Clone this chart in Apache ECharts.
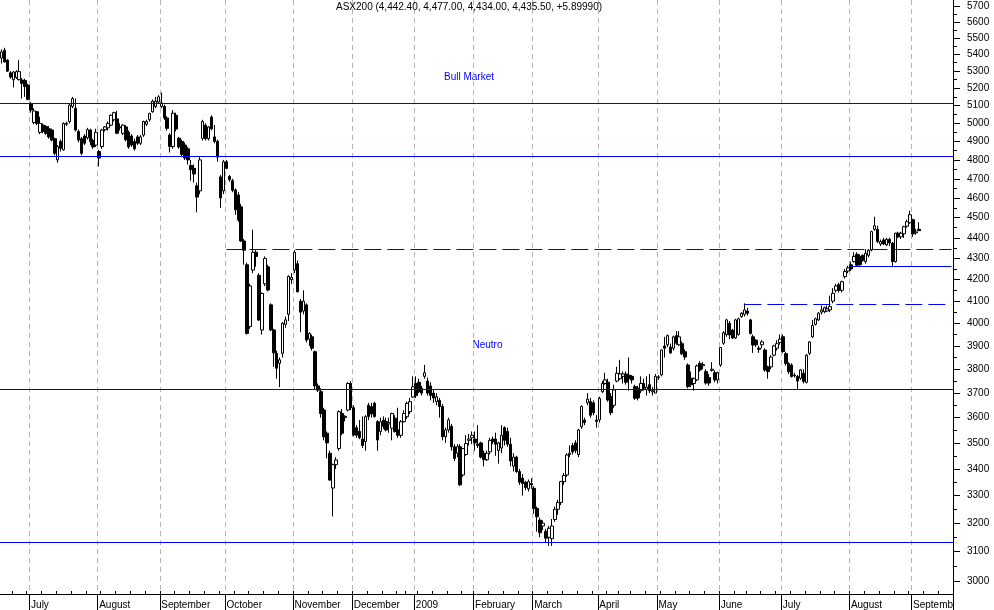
<!DOCTYPE html>
<html>
<head>
<meta charset="utf-8">
<script src="https://cdn.jsdelivr.net/npm/echarts@6/dist/echarts.min.js"></script>
<style>
html,body{margin:0;padding:0;background:#fff;}
#chart{width:994px;height:610px;}
</style>
</head>
<body>
<div id="chart"></div>
<script>
// ---------- calendar (category axis) ----------
const firstTradingDay = '2008-06-17';
const totalSlots = 322;               // trading-day slots on the axis (data + empty space at right)
const holidays = ['2008-12-25','2008-12-26','2009-01-01','2009-01-26','2009-04-10','2009-04-13','2009-06-08'];
const monthNames = ['January','February','March','April','May','June','July','August','September','October','November','December'];

// ---------- values: [open, high, low, close] ----------
const ohlcJun2008 = [
[5378,5430,5345,5415],[5425,5440,5350,5355],[5366,5370,5295,5300],[5290,5300,5255,5265],[5250,5300,5205,5295],
[5262,5305,5255,5297],[5250,5365,5245,5297],[5248,5260,5140,5228],[5245,5255,5150,5210],[5218,5225,5130,5136]];
const ohlcJul2008 = [
[5112,5120,5060,5075],[5005,5085,4995,5070],[5065,5070,4990,5000],[4950,5037,4940,5000],[4990,5000,4945,4955],
[4982,4990,4935,4945],[4970,4985,4915,4925],[4963,4970,4900,4908],[4915,4920,4825,4836],[4800,4880,4785,4872],
[4900,4910,4845,4862],[4855,5005,4850,5000],[4995,5010,4985,5000],[5010,5110,5000,5103],[5095,5150,5085,5140],
[5085,5140,4955,4963],[4955,4965,4895,4908],[4915,4925,4825,4836],[4930,4940,4880,4890],[4920,4975,4910,4965],
[4963,4970,4880,4900],[4905,4915,4860,4870],[4880,4970,4870,4950]];
const ohlcAug2008 = [
[4845,4855,4765,4810],[4872,4970,4860,4963],[4965,4985,4955,4980],[4975,5010,4960,5000],[4990,5050,4985,5045],
[5020,5065,5010,5060],[5025,5070,4940,4945],[4980,5000,4960,4976],[4945,4995,4935,4990],[4980,4990,4900,4910],
[4950,4960,4860,4870],[4930,4940,4870,4880],[4900,4915,4850,4860],[4925,4935,4880,4890],[4890,4935,4880,4925],
[4935,5015,4925,5010],[4995,5020,4985,5010],[5020,5060,5010,5055],[5065,5135,5060,5125],[5095,5150,5085,5125],
[5120,5160,5110,5150]];
const ohlcSep2008 = [
[5095,5175,5085,5115],[5095,5105,5020,5030],[5030,5040,4960,4972],[4935,4945,4840,4872],[4872,5075,4860,5057],
[5045,5060,4955,4968],[4918,4925,4860,4870],[4900,4910,4820,4830],[4880,4895,4800,4810],[4860,4870,4775,4800],
[4770,4800,4690,4748],[4755,4775,4680,4725],[4663,4680,4527,4605],[4637,4815,4620,4800],[4917,5020,4905,5010],
[4990,5000,4905,4915],[4915,4985,4905,4980],[5035,5045,4960,4970],[4925,4990,4890,4900],[4900,4910,4790,4815],
[4710,4720,4550,4600],[4637,4800,4620,4790]];
const ohlcOct2008 = [
[4790,4800,4750,4755],[4712,4720,4685,4695],[4690,4700,4630,4640],[4642,4650,4515,4540],[4616,4630,4480,4489],
[4555,4570,4380,4385],[4385,4395,4270,4340],[4270,4280,3950,3955],[3985,4180,3975,4170],[4245,4440,4230,4330],
[4330,4340,4260,4310],[4220,4230,4010,4015],[3970,4140,3950,4135],[4180,4310,4170,4300],[4260,4270,4145,4151],
[4083,4090,3965,3970],[3970,3975,3810,3870],[3868,3880,3760,3804],[3825,3850,3725,3840],[3868,4005,3850,4000],
[3995,4030,3980,4015],[4040,4220,4010,4215],[4200,4230,4180,4210]];
const ohlcNov2008 = [
[4245,4340,4230,4330],[4275,4290,4140,4143],[4100,4110,3960,4050],[4055,4150,4040,4100],[4083,4090,3915,3926],
[3930,3960,3900,3955],[3940,3950,3880,3890],[3875,3880,3715,3730],[3730,3740,3705,3712],[3706,3720,3600,3617],
[3631,3640,3510,3524],[3538,3545,3440,3500],[3460,3470,3355,3358],[3328,3420,3224,3416],[3416,3445,3400,3434],
[3478,3630,3470,3624],[3617,3635,3530,3538],[3600,3610,3585,3605],[3631,3745,3625,3740],[3740,3750,3630,3640]];
const ohlcDec2008 = [
[3640,3650,3525,3531],[3560,3570,3520,3530],[3545,3590,3515,3520],[3515,3605,3480,3490],[3505,3610,3470,3604],
[3650,3660,3590,3605],[3645,3660,3600,3615],[3658,3665,3600,3605],[3584,3590,3470,3511],[3545,3600,3530,3584],
[3590,3605,3555,3565],[3584,3600,3545,3551],[3575,3600,3540,3580],[3558,3620,3510,3617],[3598,3610,3540,3545],
[3551,3640,3520,3530],[3530,3590,3520,3584],[3584,3630,3580,3617],[3604,3665,3595,3658],[3624,3680,3615,3665],
[3684,3770,3680,3726]];
const ohlcJan2009 = [
[3740,3770,3680,3690],[3745,3760,3700,3706],[3720,3730,3690,3700],[3770,3818,3760,3785],[3750,3765,3690,3700],
[3730,3745,3670,3690],[3700,3715,3660,3680],[3665,3700,3650,3685],[3670,3680,3600,3645],[3645,3655,3510,3524],
[3524,3560,3500,3551],[3551,3600,3540,3591],[3565,3575,3470,3485],[3485,3495,3430,3440],[3460,3495,3445,3485],
[3485,3495,3335,3340],[3377,3480,3370,3478],[3455,3530,3450,3498],[3510,3535,3490,3515],[3520,3545,3495,3530]];
const ohlcFeb2009 = [
[3515,3545,3470,3500],[3495,3570,3480,3490],[3500,3505,3440,3445],[3460,3470,3410,3435],[3435,3470,3430,3460],
[3465,3520,3455,3510],[3515,3525,3495,3505],[3515,3540,3450,3495],[3470,3505,3420,3500],[3480,3570,3460,3530],
[3560,3565,3490,3510],[3545,3560,3485,3495],[3495,3520,3410,3430],[3410,3460,3390,3445],[3445,3450,3385,3390],
[3390,3400,3340,3350],[3365,3380,3300,3345],[3350,3355,3320,3330],[3325,3360,3315,3352],[3345,3365,3325,3340]];
const ohlcMar2009 = [
[3327,3335,3234,3253],[3253,3260,3170,3223],[3211,3220,3150,3166],[3190,3210,3175,3200],[3171,3180,3130,3147],
[3150,3190,3120,3182],[3145,3215,3120,3190],[3213,3260,3205,3250],[3250,3285,3230,3275],[3275,3355,3265,3352],
[3352,3385,3340,3375],[3377,3460,3370,3453],[3455,3490,3445,3460],[3490,3500,3455,3465],[3500,3510,3460,3470],
[3455,3555,3445,3551],[3564,3650,3555,3645],[3590,3600,3570,3580],[3660,3700,3650,3675],[3665,3680,3600,3610],
[3660,3670,3610,3620],[3590,3610,3560,3585]];
const ohlcApr2009 = [
[3591,3685,3580,3678],[3706,3750,3700,3740],[3740,3785,3735,3755],[3745,3760,3665,3672],[3686,3700,3610,3620],
[3650,3735,3640,3713],[3750,3810,3745,3783],[3760,3840,3755,3780],[3770,3790,3740,3780],[3780,3790,3735,3745],
[3775,3850,3710,3760],[3770,3775,3740,3755],[3727,3735,3672,3679],[3720,3730,3670,3680],[3710,3770,3700,3740],
[3740,3760,3710,3720],[3715,3770,3690,3725],[3735,3780,3700,3710],[3705,3725,3690,3710],[3700,3780,3700,3770]];
const ohlcMay2009 = [
[3765,3775,3755,3768],[3776,3885,3770,3882],[3900,3940,3850,3890],[3905,3950,3895,3945],[3895,3910,3865,3870],
[3890,3945,3880,3940],[3945,3965,3905,3912],[3905,3965,3900,3940],[3910,3920,3860,3866],[3875,3885,3840,3852],
[3818,3825,3720,3727],[3762,3790,3725,3735],[3740,3765,3710,3760],[3755,3820,3750,3814],[3824,3834,3790,3797],
[3815,3830,3800,3820],[3790,3800,3735,3742],[3765,3780,3730,3742],[3795,3830,3790,3800],[3785,3795,3745,3755],
[3755,3790,3740,3785]];
const ohlcJun2009 = [
[3818,3895,3810,3893],[3912,3965,3905,3958],[3950,4020,3940,4015],[4000,4010,3930,3948],[3970,3975,3930,3935],
[3935,4020,3930,4015],[3950,4025,3945,4020],[4030,4050,4025,4045],[4040,4090,4030,4060],[4055,4070,4035,4045],
[4015,4020,3950,3955],[3940,3950,3870,3904],[3925,3930,3895,3905],[3890,3900,3870,3885],[3905,3925,3890,3918],
[3882,3890,3790,3797],[3810,3815,3760,3790],[3810,3860,3800,3852],[3860,3905,3855,3900],[3890,3925,3880,3910],
[3915,3950,3905,3930]];
const ohlcJul2009 = [
[3940,3950,3870,3876],[3867,3875,3815,3824],[3824,3830,3780,3790],[3818,3825,3765,3769],[3775,3785,3765,3772],
[3770,3775,3715,3750],[3762,3800,3755,3797],[3783,3800,3740,3748],[3745,3865,3740,3860],[3868,3920,3860,3918],
[3940,4015,3935,3990],[3995,4025,3990,4020],[4015,4050,4010,4045],[4050,4080,4040,4060],[4052,4075,4045,4070],
[4055,4080,4050,4065],[4060,4125,4050,4075],[4100,4160,4090,4136],[4150,4180,4140,4170],[4176,4185,4140,4150],
[4150,4195,4140,4190],[4214,4250,4205,4238],[4240,4265,4230,4255]];
const ohlcAug2009 = [
[4270,4285,4240,4250],[4285,4330,4280,4310],[4320,4330,4265,4268],[4310,4320,4265,4270],[4315,4320,4285,4290],
[4285,4345,4275,4325],[4315,4345,4305,4340],[4341,4435,4335,4431],[4442,4505,4435,4460],[4442,4460,4375,4382],
[4370,4392,4360,4382],[4390,4400,4365,4370],[4365,4400,4360,4393],[4393,4400,4360,4375],[4374,4380,4258,4285],
[4285,4425,4280,4423],[4423,4430,4400,4405],[4405,4430,4395,4423],[4420,4460,4400,4455],[4458,4490,4450,4480],
[4475,4535,4470,4515]];
const ohlcSep2009 = [
[4490,4495,4405,4420],[4425,4445,4415,4429.6],[4442.4,4477,4434,4435.5]];

// ---------- y-axis ticks ----------
const yAxisMin = 2956.8, yAxisMax = 5738;
const yMajorTicks = [3000,3100,3200,3300,3400,3500,3600,3700,3800,3900,4000,4100,4200,4300,4400,4500,4600,4700,4800,4900,5000,5100,5200,5300,5400,5500,5600,5700];
const yMinorTicks = [3050,3150,3250,3350,3450,3550,3650,3750,3850,3950,4050,4150,4250,4350,4450,4550,4650,4750,4850,4950,5050,5150,5250,5350,5450,5550,5650];

// ---------- annotation lines ----------
const fullWidthLevels = [5135, 4803, 3712, 3127];
const partialLevels = [
  {from:'2008-10-01', value:4344, dashed:true},
  {from:'2009-06-12', value:4088, dashed:true},
  {from:'2009-08-03', value:4261, dashed:false}
];

const titleText = 'ASX200 (4,442.40, 4,477.00, 4,434.00, 4,435.50, +5.89990)';
const FONT = '"Liberation Sans", Arial, sans-serif';
const LINE_BLUE = '#0000ff';

// ---------- build ----------
const ohlc = [].concat(ohlcJun2008, ohlcJul2008, ohlcAug2008, ohlcSep2008, ohlcOct2008, ohlcNov2008,
  ohlcDec2008, ohlcJan2009, ohlcFeb2009, ohlcMar2009, ohlcApr2009, ohlcMay2009, ohlcJun2009,
  ohlcJul2009, ohlcAug2009, ohlcSep2009);

const categories = [];
(function () {
  const d = new Date(firstTradingDay + 'T00:00:00Z');
  while (categories.length < totalSlots) {
    const wd = d.getUTCDay();
    const s = d.toISOString().slice(0, 10);
    if (wd !== 0 && wd !== 6 && holidays.indexOf(s) < 0) categories.push(s);
    d.setUTCDate(d.getUTCDate() + 1);
  }
})();
const dayOfWeek = s => new Date(s + 'T00:00:00Z').getUTCDay();
const isMonthStart = idx => idx > 0 && idx < categories.length && categories[idx].slice(0, 7) !== categories[idx - 1].slice(0, 7);
const isWeekStart = idx => idx > 0 && idx < categories.length && dayOfWeek(categories[idx]) < dayOfWeek(categories[idx - 1]);

const seriesData = ohlc.map(d => [Math.log(d[0]), Math.log(d[3]), Math.log(d[2]), Math.log(d[1])]);
const lastIdx = categories.length - 1;

const markLineData = fullWidthLevels.map(v => ({yAxis: Math.log(v), lineStyle: {type: 'solid'}}))
  .concat(partialLevels.map(p => [
    {coord: [categories.indexOf(p.from), Math.log(p.value)], lineStyle: {type: p.dashed ? [17, 6] : 'solid'}},
    {coord: [lastIdx, Math.log(p.value)]}
  ]));

const labelFits = {};
function monthLabel(value) {
  const y = value.slice(0, 4), m = +value.slice(5, 7);
  const text = m === 1 ? y : monthNames[m - 1];
  return labelFits[value] !== undefined ? labelFits[value] : text;
}

const chart = echarts.init(document.getElementById('chart'), null, {renderer: 'canvas'});
const option = {
  animation: false,
  backgroundColor: '#ffffff',
  title: {
    text: titleText, left: 336, top: 2, padding: 0,
    textStyle: {fontSize: 10, fontWeight: 'normal', color: '#000', fontFamily: FONT}
  },
  grid: {left: 0, right: 41, top: 0, bottom: 16, containLabel: false, outerBoundsMode: 'none'},
  xAxis: [{
    type: 'category', data: categories, position: 'bottom', boundaryGap: true,
    axisLine: {show: true, onZero: false, lineStyle: {color: '#000', width: 1}},
    axisTick: {show: true, interval: isMonthStart, length: 16, lineStyle: {color: '#000', width: 1}},
    axisLabel: {show: true, interval: isMonthStart, formatter: monthLabel, align: 'left', margin: 6,
      color: '#000', fontSize: 10, fontFamily: FONT},
    splitLine: {show: true, interval: isMonthStart, lineStyle: {color: '#b4b4b4', width: 1, type: [5, 4]}}
  }, {
    type: 'category', data: categories, position: 'bottom', boundaryGap: true,
    axisLine: {show: false, onZero: false},
    axisTick: {show: true, inside: true, interval: isWeekStart, length: 3, lineStyle: {color: '#000', width: 1}},
    axisLabel: {show: false}, splitLine: {show: false}
  }],
  yAxis: [{
    type: 'value', position: 'right', min: Math.log(yAxisMin), max: Math.log(yAxisMax), scale: true,
    axisLine: {show: true, lineStyle: {color: '#000', width: 1}},
    axisTick: {show: true, length: 7, customValues: yMajorTicks.map(Math.log), lineStyle: {color: '#000'}},
    axisLabel: {show: true, customValues: yMajorTicks.map(Math.log), formatter: v => String(Math.round(Math.exp(v))),
      color: '#000', fontSize: 10, fontFamily: FONT, margin: 14, padding: [6, 0, 0, 0]},
    splitLine: {show: false}
  }, {
    type: 'value', position: 'right', min: Math.log(yAxisMin), max: Math.log(yAxisMax), scale: true,
    axisLine: {show: false},
    axisTick: {show: true, length: 4, customValues: yMinorTicks.map(Math.log), lineStyle: {color: '#000'}},
    axisLabel: {show: false}, splitLine: {show: false}
  }],
  series: [{
    type: 'candlestick', xAxisIndex: 0, yAxisIndex: 0,
    data: seriesData, barWidth: 3,
    itemStyle: {color: '#ffffff', color0: '#000000', borderColor: '#000000', borderColor0: '#000000',
      borderColorDoji: '#000000', borderWidth: 1},
    markLine: {
      silent: true, symbol: ['none', 'none'], animation: false,
      label: {show: false},
      lineStyle: {color: LINE_BLUE, width: 1},
      emphasis: {disabled: true},
      data: markLineData
    }
  }],
  graphic: [
    {type: 'text', left: 444, top: 72.5, style: {text: 'Bull Market', fill: LINE_BLUE, font: '10px ' + FONT}},
    {type: 'text', left: 472.5, top: 340, style: {text: 'Neutro', fill: LINE_BLUE, font: '10px ' + FONT}}
  ]
};
chart.setOption(option);

// month labels are clipped at the right edge of the plot, as in the reference
(function () {
  const plotRight = 994 - 41;
  const fmt = echarts.format;
  let changed = false;
  categories.forEach((c, i) => {
    if (!isMonthStart(i)) return;
    const x = chart.convertToPixel({xAxisIndex: 0}, i);
    const m = +c.slice(5, 7);
    const text = m === 1 ? c.slice(0, 4) : monthNames[m - 1];
    const avail = plotRight + 2 - x;
    if (fmt && fmt.getTextRect && fmt.getTextRect(text, '10px ' + FONT).width > avail) {
      let t = text;
      while (t.length > 1 && fmt.getTextRect(t, '10px ' + FONT).width > avail) t = t.slice(0, -1);
      labelFits[c] = t;
      changed = true;
    }
  });
  if (changed) chart.setOption({xAxis: [{axisLabel: {formatter: monthLabel}}, {}]});
})();
</script>
</body>
</html>
